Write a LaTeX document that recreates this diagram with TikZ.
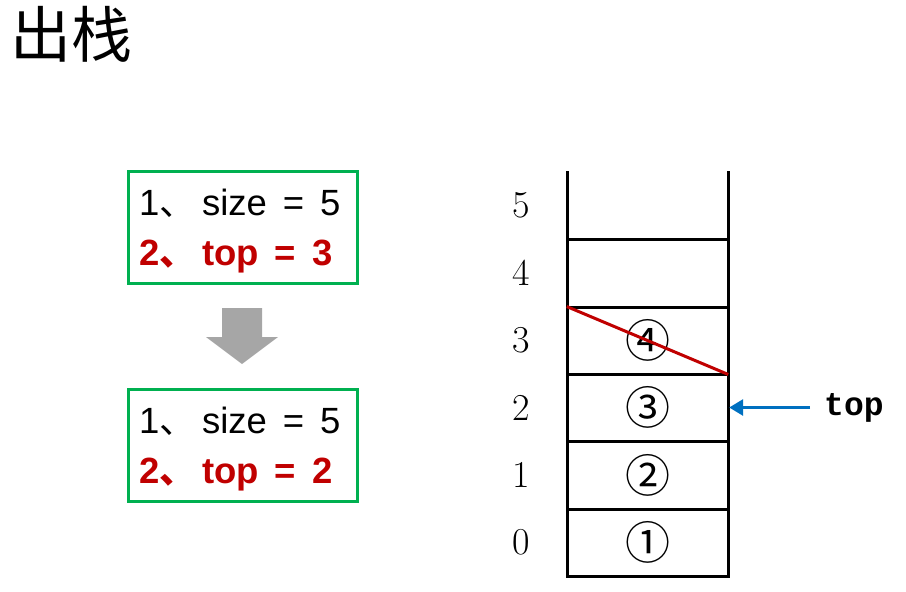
\documentclass[tikz,border=0pt]{standalone}
\usepackage{fontspec}
\setsansfont{Liberation Sans}
\newfontfamily\cjk{Noto Sans CJK SC}
\newfontfamily\monob{Liberation Mono}
\usetikzlibrary{arrows.meta}
\definecolor{boxgreen}{HTML}{00B050}
\definecolor{darkred}{HTML}{C00000}
\definecolor{arrgray}{HTML}{A6A6A6}
\definecolor{arrblue}{HTML}{0070C0}
\newcommand{\dun}{{\cjk 、}\hspace{6pt}}
\newcommand{\gap}{\hspace{16pt}}
\begin{document}
\begin{tikzpicture}[x=1pt,y=-1pt,
  box/.style={draw=boxgreen,line width=3pt,minimum width=229pt,minimum height=112pt,inner sep=0pt},
  boxtxt/.style={anchor=base west,inner sep=0pt,font=\sffamily\fontsize{36.5}{40}\selectfont},
  redtxt/.style={boxtxt,text=darkred,font=\sffamily\bfseries\fontsize{36.5}{40}\selectfont},
  stk/.style={line width=3pt,line cap=rect},
  cell/.style={minimum width=161pt,minimum height=67.5pt,inner sep=0pt,font=\cjk\fontsize{45}{48}\selectfont},
  idx/.style={inner sep=0pt,font=\fontsize{38}{40}\selectfont}]
\path[use as bounding box] (0,0) rectangle (906,592);
% title
\node[anchor=north west,inner sep=0pt,font=\cjk\fontsize{61}{64}\selectfont] (title) at (10,6) {出栈};
% boxes
\node[box] (b1) at (242.5,227) {};
\node[boxtxt] (b1l1) at (139,215) {1\dun size\gap=\gap5};
\node[redtxt] (b1l2) at (139,265) {2\dun top\gap=\gap3};
\node[box] (b2) at (242.5,445.5) {};
\node[boxtxt] (b2l1) at (139,433) {1\dun size\gap=\gap5};
\node[redtxt] (b2l2) at (139,483) {2\dun top\gap=\gap2};
% gray block arrow
\fill[arrgray] (222,308) -- (262,308) -- (262,337) -- (278,337) -- (242,364) -- (206,337) -- (222,337) -- cycle;
% stack
\draw[stk] (567,172) -- (567,576) -- (728,576) -- (728,172);
\foreach \yy in {239,307,374,441,509} \draw[stk] (567,\yy) -- (728,\yy);
\node[cell] (c0) at (647.5,542.5) {①};
\node[cell] (c1) at (647.5,475) {②};
\node[cell] (c2) at (647.5,407.5) {③};
\node[cell] (c3) at (647.5,340.5) {④};
\node[cell] (c4) at (647.5,273) {};
\node[idx] (i0) at (521,542.5) {0};
\node[idx] (i1) at (521,475) {1};
\node[idx] (i2) at (521,407.5) {2};
\node[idx] (i3) at (521,340.5) {3};
\node[idx] (i4) at (521,273) {4};
\node[idx] (i5) at (521,205) {5};
% cross-out
\draw[darkred,line width=3pt] (c3.north west) -- (c3.south east);
% top pointer
\node[anchor=west,inner sep=0pt,font=\monob\bfseries\fontsize{33}{36}\selectfont] (toplbl) at (824,407.5) {top};
\draw[arrblue,line width=3pt,-{Triangle[length=14pt,width=16pt]}] ([xshift=-14pt]toplbl.west) -- ([xshift=1pt]c2.east);
\end{tikzpicture}
\end{document}
